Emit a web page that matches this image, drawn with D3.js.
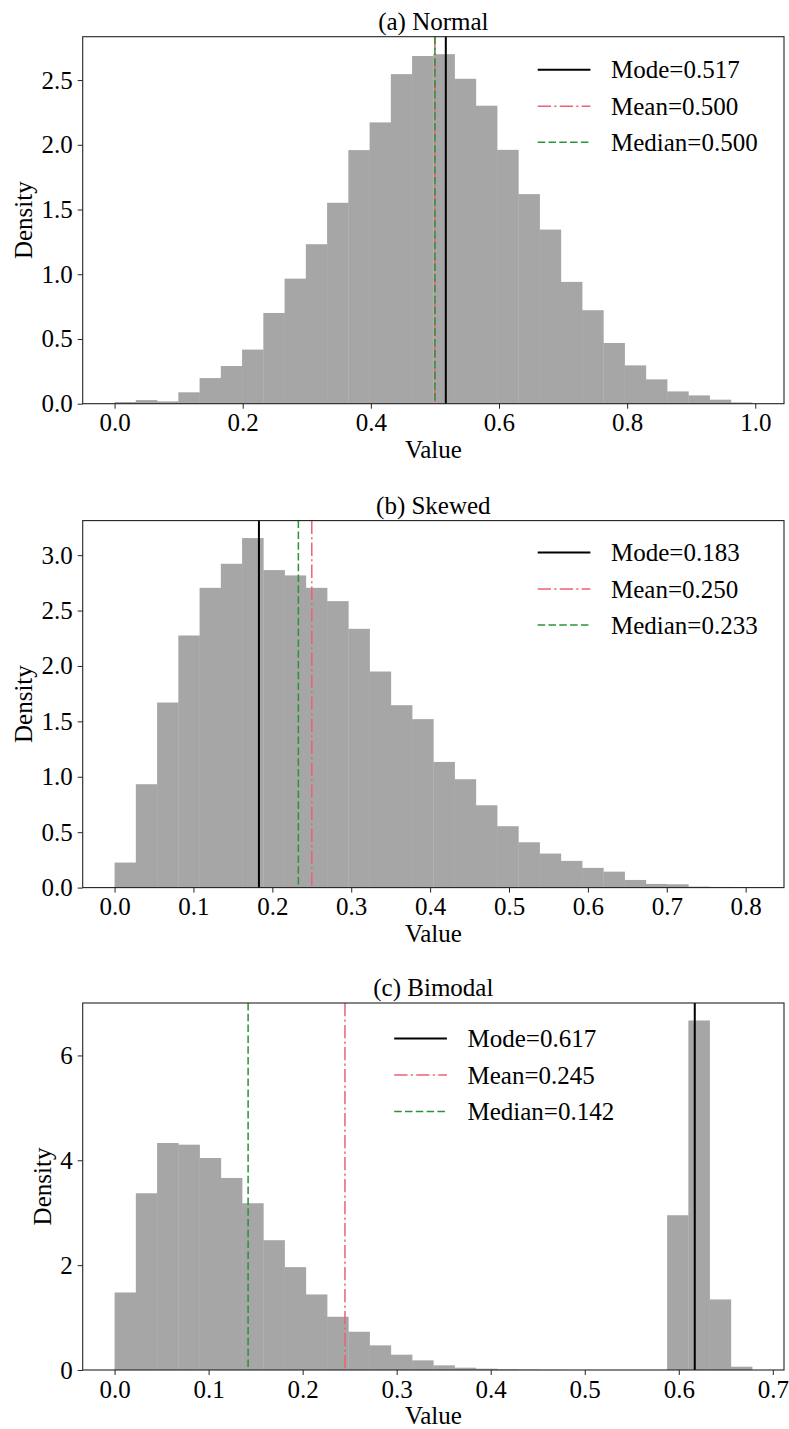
<!DOCTYPE html>
<html>
<head>
<meta charset="utf-8">
<script src="https://cdn.jsdelivr.net/npm/d3@7"></script>
<style>
  html, body { margin: 0; padding: 0; background: #fff; }
  svg { display: block; font-family: "Liberation Serif", "Times New Roman", serif; }
  .tick text { font-size: 25px; fill: #000; }
</style>
</head>
<body>
<div id="chart"></div>
<script>
// three histograms (density) with mode / mean / median markers

// panel titles
var titles = ["(a) Normal", "(b) Skewed", "(c) Bimodal"];

// bin layout of each histogram (30 bins each)
var binStarts = [0.0, 0.0, 0.0];
var binWidths = [0.03317, 0.02694, 0.0226];

// density per bin
var normalDensity = [0.013, 0.028, 0.018, 0.088, 0.198, 0.291, 0.418, 0.701, 0.966, 1.232,
  1.552, 1.959, 2.173, 2.546, 2.686, 2.700, 2.510, 2.302, 1.961, 1.619,
  1.345, 0.941, 0.722, 0.469, 0.296, 0.188, 0.095, 0.064, 0.031, 0.010];
var skewedDensity = [0.226, 0.933, 1.670, 2.275, 2.705, 2.922, 3.154, 2.865, 2.817, 2.705,
  2.585, 2.335, 1.950, 1.646, 1.520, 1.134, 0.978, 0.743, 0.554, 0.409,
  0.307, 0.241, 0.178, 0.144, 0.069, 0.033, 0.030, 0.009, 0.006, 0.003];
var bimodalDensity = [1.479, 3.371, 4.330, 4.298, 4.044, 3.663, 3.181, 2.476, 1.962, 1.441,
  1.016, 0.730, 0.470, 0.292, 0.184, 0.089, 0.044, 0.025, 0.013, 0.006,
  0.003, 0, 0, 0, 0, 0, 2.952, 6.667, 1.346, 0.063];

// statistics: mode, mean, median
var modes = [0.517, 0.183, 0.617];
var means = [0.500, 0.250, 0.245];
var medians = [0.500, 0.233, 0.142];

// tick values
var xTicks = [
  [0.0, 0.2, 0.4, 0.6, 0.8, 1.0],
  [0.0, 0.1, 0.2, 0.3, 0.4, 0.5, 0.6, 0.7, 0.8],
  [0.0, 0.1, 0.2, 0.3, 0.4, 0.5, 0.6, 0.7]
];
var yTicks = [
  [0.0, 0.5, 1.0, 1.5, 2.0, 2.5],
  [0.0, 0.5, 1.0, 1.5, 2.0, 2.5, 3.0],
  [0, 2, 4, 6]
];
var yFormats = [".1f", ".1f", "d"];

var densities = [normalDensity, skewedDensity, bimodalDensity];

// layout
var W = 789, H = 1429;
var left = 82.7, right = 784;
var panelTops = [36.7, 520.6, 1003];
var panelH = 367;
// legend placement per panel (relative to axes left/top)
var legendPos = [
  {x: 455, rows: [33, 69.5, 105.5]},
  {x: 455, rows: [32, 68.5, 104.5]},
  {x: 311.5, rows: [35.5, 72, 108.5]}
];

var barColor = "#a6a6a6";
var meanColor = "#ee6073";
var medianColor = "#2a9237";

var svg = d3.select("#chart").append("svg")
  .attr("width", W).attr("height", H);
svg.append("rect").attr("width", W).attr("height", H).attr("fill", "#fff");

function drawPanel(p) {
  var top = panelTops[p];
  var dens = densities[p];
  var bw = binWidths[p];
  var lo = binStarts[p];
  var hi = lo + bw * dens.length;
  var pad = (hi - lo) * 0.05;
  var innerW = right - left;

  var x = d3.scaleLinear().domain([lo - pad, hi + pad]).range([0, innerW]);
  var y = d3.scaleLinear().domain([0, d3.max(dens) * 1.05]).range([panelH, 0]);

  var g = svg.append("g").attr("transform", "translate(" + left + "," + top + ")");

  var bins = dens.map(function(d, i) { return {x0: lo + i * bw, x1: lo + (i + 1) * bw, v: d}; });

  g.selectAll("rect.bar")
    .data(bins.filter(function(b) { return b.v > 0; }))
    .enter().append("rect")
      .attr("class", "bar")
      .attr("x", function(b) { return x(b.x0); })
      .attr("width", function(b) { return x(b.x1) - x(b.x0) + 0.3; })
      .attr("y", function(b) { return y(b.v); })
      .attr("height", function(b) { return panelH - y(b.v); })
      .attr("fill", barColor);

  // marker lines: mode, mean, median
  var markers = [
    {v: modes[p], color: "#000", dash: null, w: 2, label: "Mode=" + d3.format(".3f")(modes[p])},
    {v: means[p], color: meanColor, dash: "13.3,3.3,2.1,3.3", w: 1.5, label: "Mean=" + d3.format(".3f")(means[p])},
    {v: medians[p], color: medianColor, dash: "7.5,3.3", w: 1.5, label: "Median=" + d3.format(".3f")(medians[p])}
  ];

  markers.forEach(function(m) {
    g.append("line")
      .attr("x1", x(m.v)).attr("x2", x(m.v))
      .attr("y1", 0).attr("y2", panelH)
      .attr("stroke", m.color)
      .attr("stroke-width", m.w)
      .attr("stroke-dasharray", m.dash);
  });

  // axes
  var xAxis = g.append("g")
    .attr("transform", "translate(0," + panelH + ")")
    .call(d3.axisBottom(x).tickValues(xTicks[p]).tickFormat(d3.format(".1f"))
      .tickSize(5).tickPadding(5).tickSizeOuter(0));
  var yAxis = g.append("g")
    .call(d3.axisLeft(y).tickValues(yTicks[p]).tickFormat(d3.format(yFormats[p]))
      .tickSize(5).tickPadding(5).tickSizeOuter(0));
  [xAxis, yAxis].forEach(function(a) {
    a.select(".domain").remove();
    a.selectAll(".tick line").attr("stroke", "#222").attr("stroke-width", 1);
    a.selectAll(".tick text").attr("font-family", "Liberation Serif");
  });

  // frame
  g.append("rect")
    .attr("width", innerW).attr("height", panelH)
    .attr("fill", "none").attr("stroke", "#222").attr("stroke-width", 1.1);

  // title
  g.append("text")
    .attr("x", innerW / 2).attr("y", -7)
    .attr("text-anchor", "middle")
    .attr("font-size", 25)
    .text(titles[p]);

  // axis labels
  g.append("text")
    .attr("x", innerW / 2).attr("y", panelH + 54)
    .attr("text-anchor", "middle")
    .attr("font-size", 25)
    .text("Value");

  var yb = yAxis.node().getBBox();
  g.append("text")
    .attr("transform", "translate(" + (yb.x - 9.5) + "," + (panelH / 2) + ") rotate(-90)")
    .attr("text-anchor", "middle")
    .attr("font-size", 25)
    .text("Density");

  // legend
  var lg = g.append("g").attr("transform", "translate(" + legendPos[p].x + ",0)");
  markers.forEach(function(m, i) {
    var ry = legendPos[p].rows[i];
    lg.append("line")
      .attr("x1", 0).attr("x2", 52.7)
      .attr("y1", ry).attr("y2", ry)
      .attr("stroke", m.color)
      .attr("stroke-width", m.w)
      .attr("stroke-dasharray", m.dash);
    lg.append("text")
      .attr("x", 73.3).attr("y", ry + 8.5)
      .attr("font-size", 25)
      .text(m.label);
  });
}

for (var p = 0; p < 3; p++) {
  drawPanel(p);
}
</script>
</body>
</html>
